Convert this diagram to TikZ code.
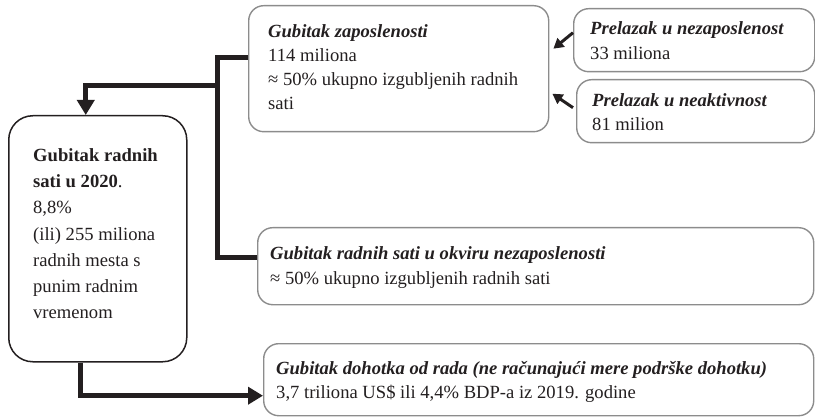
\documentclass[tikz,border=0pt]{standalone}
\usepackage{fontspec}
\setmainfont{Liberation Serif}
\usetikzlibrary{arrows.meta}
\definecolor{ink}{HTML}{231F20}
\definecolor{boxgray}{HTML}{8C8C8C}
\begin{document}
\begin{tikzpicture}[x=1pt,y=-1pt,
  graybox/.style={draw=boxgray, line width=1.4pt, rounded corners=15pt, anchor=north west, inner sep=0pt},
  blackbox/.style={draw=ink, line width=1.5pt, rounded corners=24pt, anchor=north west, inner sep=0pt},
  txt/.style={inner sep=0pt, anchor=base west, align=left, text=ink},
  conn/.style={draw=ink, line width=5pt, line join=miter},
  bigtip/.style={-{Triangle[length=15pt,width=17pt]}},
  smallarr/.style={draw=ink, line width=3pt, -{Triangle[length=10pt,width=11pt]}}
]
\useasboundingbox (0,0) rectangle (815,417);
\fontsize{18.6}{24}\selectfont
% boxes
\node[graybox, minimum width=300pt, minimum height=126pt] (zap) at (248,5) {};
\node[graybox, minimum width=241pt, minimum height=63pt] (pr1) at (573,8) {};
\node[graybox, minimum width=238pt, minimum height=63pt] (pr2) at (576,79) {};
\node[graybox, minimum width=556pt, minimum height=77pt] (mid) at (257,227) {};
\node[graybox, minimum width=550pt, minimum height=72pt] (bot) at (263,343) {};
\node[blackbox, minimum width=178pt, minimum height=246pt] (lb) at (8,115) {};
% texts (anchored at the baseline of their last line)
\node[txt, font=\fontsize{18.6}{24}\selectfont] (zapt) at (268,110)
  {\textbf{\textit{Gubitak zaposlenosti}}\\114 miliona\\≈ 50\% ukupno izgubljenih radnih\\sati};
\node[txt, font=\fontsize{18.6}{25}\selectfont] (pr1t) at (590,60)
  {\textbf{\textit{Prelazak u nezaposlenost}}\\33 miliona};
\node[txt, font=\fontsize{18.6}{24}\selectfont] (pr2t) at (592,131)
  {\textbf{\textit{Prelazak u neaktivnost}}\\81 milion};
\node[txt, font=\fontsize{18.6}{25}\selectfont] (midt) at (270,284)
  {\textbf{\textit{Gubitak radnih sati u okviru nezaposlenosti}}\\≈ 50\% ukupno izgubljenih radnih sati};
\node[txt, font=\fontsize{18.6}{24}\selectfont] (bott) at (276,398)
  {\textbf{\textit{Gubitak dohotka od rada (ne računajući mere podrške dohotku)}}\\3,7 triliona US\$ ili 4,4\% BDP-a iz 2019. godine};
\node[txt, font=\fontsize{18.6}{26.3}\selectfont] (lbt) at (33,319)
  {\textbf{Gubitak radnih}\\\textbf{sati u 2020}.\\8,8\%\\(ili) 255 miliona\\radnih mesta s\\punim radnim\\vremenom};
% connectors
\draw[conn] ([yshift=11pt]zap.west) -- ++(-31,0) |- ([yshift=8.5pt]mid.west);
\coordinate (jn) at (217,86);
\draw[conn, bigtip] (jn) -| ([xshift=-12pt]lb.north);
\draw[conn, bigtip] ([xshift=-17pt]lb.south) |- ([yshift=-16pt]bot.west);
\draw[smallarr] ([yshift=7.5pt]pr1.west) -- ([xshift=4pt,yshift=20pt]zap.east);
\draw[smallarr] ([xshift=-3pt,yshift=3.5pt]pr2.west) -- ([xshift=3pt,yshift=-25pt]zap.east);
\end{tikzpicture}
\end{document}
